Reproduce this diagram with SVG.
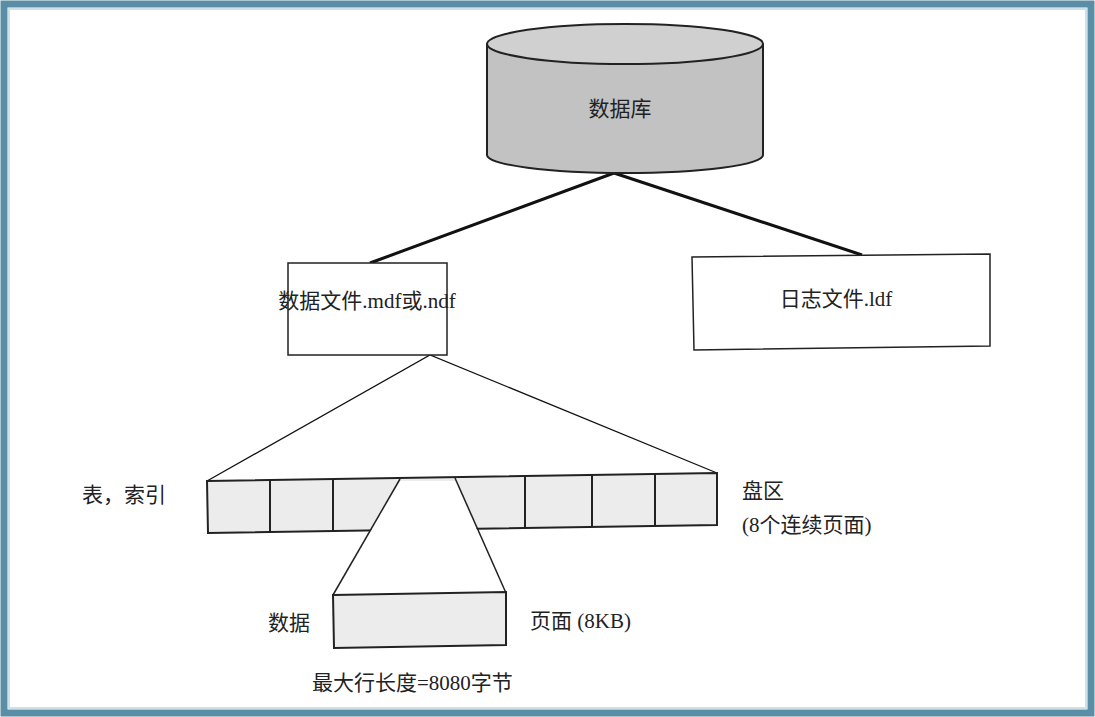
<svg xmlns="http://www.w3.org/2000/svg" width="1095" height="717" viewBox="0 0 1095 717">
<style>
text{font-family:"Liberation Serif","Noto Sans CJK SC",serif;font-size:21px;fill:#222}
.b{fill:#fff;stroke:#222;stroke-width:1.5}
.c{fill:#ececec;stroke:#222;stroke-width:2}
.l{stroke:#111;fill:none}
</style>
<rect x="0" y="0" width="1095" height="717" fill="#fff"/>
<rect x="4" y="4" width="1087" height="709" fill="none" stroke="#5a8ea6" stroke-width="7"/>
<rect x="9" y="9" width="1077" height="699" fill="none" stroke="#cfe0e8" stroke-width="2"/>
<g id="connectors">
<line class="l" stroke-width="3" x1="614" y1="173" x2="370" y2="263"/>
<line class="l" stroke-width="3" x1="614" y1="173" x2="862" y2="255"/>
<polyline class="l" stroke-width="1.3" points="207,481 430,355 717,473"/>
</g>
<g id="db">
<path d="M487,44 V155 A138,18 0 0 0 763,155 V44" fill="#c2c2c2" stroke="#222" stroke-width="2"/>
<ellipse cx="625" cy="44" rx="138" ry="20" fill="#d0d0d0" stroke="#222" stroke-width="2"/>
<text x="620" y="116" text-anchor="middle">数据库</text>
</g>
<g id="datafile">
<rect class="b" x="288" y="263" width="159" height="92"/>
<text x="367" y="308" text-anchor="middle" font-size="19">数据文件.mdf或.ndf</text>
</g>
<g id="logfile">
<polygon class="b" points="692,257 990,254 990,346 694,350"/>
<text x="836" y="306" text-anchor="middle">日志文件.ldf</text>
</g>
<g id="extent">
<polygon class="c" points="207,481 717,473 717,525 208,533"/>
<g stroke="#222" stroke-width="2">
<line x1="270" y1="480" x2="270" y2="532"/>
<line x1="333" y1="479" x2="333" y2="531"/>
<line x1="525" y1="476" x2="525" y2="528"/>
<line x1="592" y1="475" x2="592" y2="527"/>
<line x1="655" y1="474" x2="655" y2="526"/>
</g>
<polygon points="400,481 455,481 506,594 333,595" fill="#fff" stroke="none"/>
<line x1="400" y1="479" x2="333" y2="595" stroke="#222" stroke-width="1.5"/>
<line x1="455" y1="478" x2="506" y2="593" stroke="#222" stroke-width="1.5"/>
<text x="82" y="502">表，索引</text>
<text x="742" y="498">盘区</text>
<text x="742" y="532">(8个连续页面)</text>
</g>
<g id="page">
<polygon class="c" points="333,595 506,592 506,645 334,648"/>
<text x="268" y="630">数据</text>
<text x="530" y="628">页面 (8KB)</text>
<text x="312" y="690">最大行长度=8080字节</text>
</g>
</svg>
